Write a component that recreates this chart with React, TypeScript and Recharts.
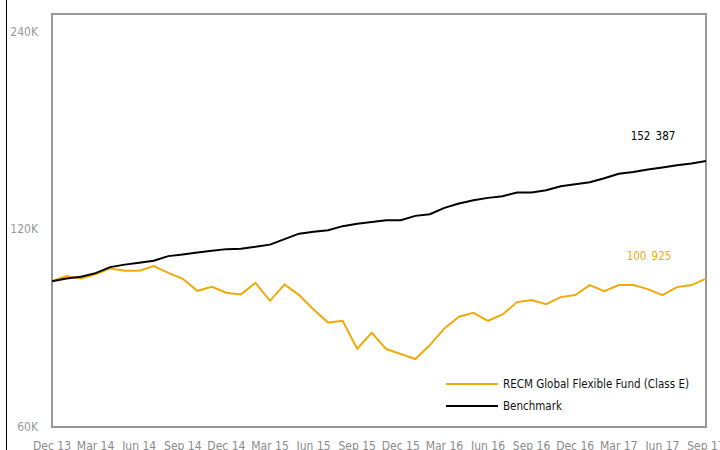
import React from "react";
import { LineChart, Line, XAxis, YAxis, LabelList, ReferenceArea } from "recharts";

const months = [
  "Dec 13",
  "Jan 14", "Feb 14", "Mar 14", "Apr 14", "May 14", "Jun 14", "Jul 14", "Aug 14", "Sep 14", "Oct 14", "Nov 14", "Dec 14",
  "Jan 15", "Feb 15", "Mar 15", "Apr 15", "May 15", "Jun 15", "Jul 15", "Aug 15", "Sep 15", "Oct 15", "Nov 15", "Dec 15",
  "Jan 16", "Feb 16", "Mar 16", "Apr 16", "May 16", "Jun 16", "Jul 16", "Aug 16", "Sep 16", "Oct 16", "Nov 16", "Dec 16",
  "Jan 17", "Feb 17", "Mar 17", "Apr 17", "May 17", "Jun 17", "Jul 17", "Aug 17", "Sep 17",
];

const fund = [
  100000, 101800, 100980, 102400, 104570, 103700, 103700, 105420, 102980, 100840, 96690, 98050, 96020,
  95480, 99430, 93360, 98880, 95250, 90590, 86500, 87050, 78920, 83470, 78840, 77470,
  76130, 79950, 84760, 88280, 89520, 87050, 89020, 92940, 93590, 92290, 94580, 95250,
  98640, 96590, 98640, 98640, 97270, 95250, 97950, 98640, 100925,
];

const benchmark = [
  100000, 100980, 101550, 102870, 105050, 105980, 106650, 107400, 109180, 109830, 110600, 111230, 111890,
  112080, 112790, 113670, 115880, 118130, 118870, 119580, 121270, 122330, 123060, 123840, 123840,
  125720, 126470, 129290, 131300, 132830, 133900, 134700, 136450, 136450, 137550, 139490, 140470,
  141460, 143460, 145730, 146650, 147890, 148930, 150130, 151030, 152387,
];

const yTicks = [60000, 120000, 240000];

const FUND_NAME = "RECM Global Flexible Fund (Class E)";
const BENCH_NAME = "Benchmark";
const ORANGE = "#F0AA0A";
const FONT = "'DejaVu Sans', sans-serif";
const NARROW = { fontStretch: "condensed" as const };

const data = months.map((m, i) => ({ month: m, fund: fund[i], benchmark: benchmark[i] }));
const last = months.length - 1;

const fmt = (v: number) => {
  const k = Math.floor(v / 1000);
  const r = String(v % 1000).padStart(3, "0");
  return `${k}\u2002${r}`;
};

const endLabel = (color: string, dx: number, dy: number) => (props: any) => {
  const { x, y, index, value } = props;
  if (index !== last) return null;
  return (
    <text x={x + dx} y={y + dy} fill={color} textAnchor="middle" fontSize={11.5} fontFamily={FONT} style={NARROW}>
      {fmt(value)}
    </text>
  );
};

const LegendBox = () => (
  <div
    style={{
      position: "absolute",
      left: 446,
      top: 373,
      fontFamily: FONT,
      fontSize: 11.5,
      color: "#111",
      whiteSpace: "nowrap",
      ...NARROW,
    }}
  >
    {[
      { name: FUND_NAME, color: ORANGE },
      { name: BENCH_NAME, color: "#000" },
    ].map((it) => (
      <div key={it.name} style={{ display: "flex", alignItems: "center", height: 22 }}>
        <svg width={52} height={4} style={{ marginRight: 5 }}>
          <line x1={0} y1={2} x2={52} y2={2} stroke={it.color} strokeWidth={2} />
        </svg>
        <span>{it.name}</span>
      </div>
    ))}
  </div>
);

export default function App() {
  return (
    <div style={{ position: "absolute", left: 0, top: 0, width: 720, height: 450, background: "#fff" }}>
      <div style={{ position: "absolute", left: 6, top: 0, width: 1, height: 450, background: "#000" }} />
      <LineChart width={720} height={450} data={data} margin={{ top: 14, right: 14, bottom: 0, left: 0 }}>
        <XAxis
          dataKey="month"
          interval={2}
          height={23}
          tickLine={false}
          tickSize={0}
          tickMargin={14}
          axisLine={false}
          tick={{ fill: "#8a8a8a", fontSize: 12, fontFamily: FONT, style: NARROW }}
        />
        <YAxis
          scale="log"
          domain={[60000, 255000]}
          allowDataOverflow
          ticks={yTicks}
          width={52}
          tickLine={false}
          tickSize={0}
          tickMargin={14}
          axisLine={false}
          tickFormatter={(v: number) => `${v / 1000}K`}
          tick={{ fill: "#999", fontSize: 12, fontFamily: FONT, style: NARROW }}
        />
        <ReferenceArea y1={60000} y2={255000} fill="none" stroke="#999" strokeWidth={2} ifOverflow="visible" />
        <Line
          dataKey="fund"
          name={FUND_NAME}
          stroke={ORANGE}
          strokeWidth={2}
          dot={false}
          isAnimationActive={false}
        >
          <LabelList dataKey="fund" content={endLabel(ORANGE, -57, -19)} />
        </Line>
        <Line
          dataKey="benchmark"
          name={BENCH_NAME}
          stroke="#000"
          strokeWidth={2}
          dot={false}
          isAnimationActive={false}
        >
          <LabelList dataKey="benchmark" content={endLabel("#000", -53, -21)} />
        </Line>
      </LineChart>
      <LegendBox />
    </div>
  );
}
